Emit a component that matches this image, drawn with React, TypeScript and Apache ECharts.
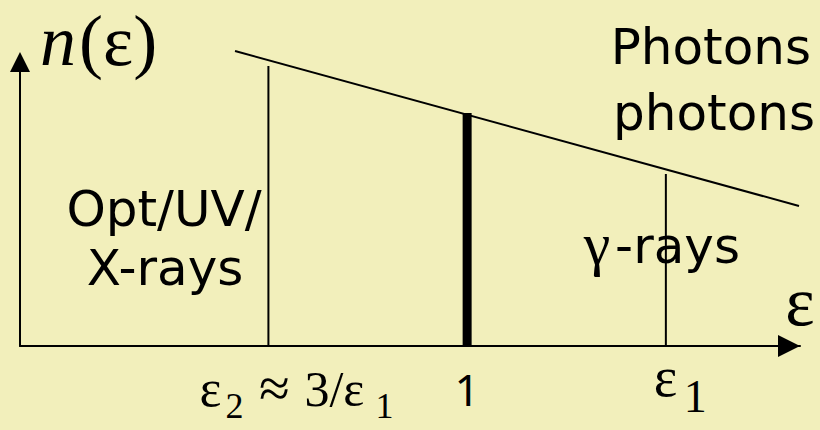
import React, { useEffect, useRef } from "react";
import * as echarts from "echarts";

// axis extents (log ε on x, log n on y; arbitrary units)
const xMin = -4.5;
const xMax = 3.35;
const yMin = 0;
const yMax = 2.84;

// power-law photon spectrum (straight line in log-log)
const spectrumX = [-2.336, 3.34];
const spectrumY = [2.95, 1.4];

// vertical markers: ε2, 1, ε1
const markerX = [-2, 0, 2];
const markerTop = [2.8, 2.33, 1.72];

// texts
const yAxisTitle = ["n", "(ε)"];
const xAxisTitle = "ε";
const topRightLabel = ["Photons", "photons"];
const leftBandLabel = ["Opt/UV/", "X-rays"];
const rightBandLabel = ["γ", "-rays"];
const tickLabelEps2 = ["ε", "2", "≈", "3/ε", "1"];
const tickLabelOne = "1";
const tickLabelEps1 = ["ε", "1"];

const SERIF = "'Liberation Serif', 'Times New Roman', serif";
const SANS = "'DejaVu Sans', Verdana, sans-serif";
const SANS2 = "'Noto Sans', Arial, sans-serif";
const BG = "#F2EFBB";

export default function App() {
  const ref = useRef<HTMLDivElement>(null);

  useEffect(() => {
    if (!ref.current) return;
    const chart = echarts.init(ref.current, null, { renderer: "svg" });

    const lineCommon = {
      show: true,
      onZero: false,
      symbol: ["none", "triangle"],
      lineStyle: { color: "#000", width: 2 },
    };
    const axisCommon = {
      type: "value" as const,
      axisTick: { show: false },
      axisLabel: { show: false },
      splitLine: { show: false },
    };

    const markerSeries = markerX.map((x, i) => ({
      type: "line" as const,
      data: [
        [x, 0],
        [x, markerTop[i]],
      ],
      symbol: "none",
      silent: true,
      clip: false,
      lineStyle: { color: "#000", width: i === 1 ? 9 : 2, cap: "butt" },
    }));

    chart.setOption({
      animation: false,
      backgroundColor: BG,
      grid: { left: 20, right: 20, top: 62, bottom: 84 },
      xAxis: {
        ...axisCommon,
        min: xMin,
        max: xMax,
        axisLine: { ...lineCommon, symbolSize: [22, 22], symbolOffset: [0, -11] },
      },
      yAxis: {
        ...axisCommon,
        min: yMin,
        max: yMax,
        axisLine: { ...lineCommon, symbolSize: [20, 20] },
      },
      series: [
        {
          type: "line",
          data: spectrumX.map((x, i) => [x, spectrumY[i]]),
          symbol: "none",
          silent: true,
          clip: false,
          lineStyle: { color: "#000", width: 2 },
        },
        ...markerSeries,
      ],
    });

    const px = (v: number) => chart.convertToPixel({ xAxisIndex: 0 }, v) as number;
    const t0 = px(markerX[0]);
    const t1 = px(markerX[1]);
    const t2 = px(markerX[2]);

    const txt = (
      text: string,
      x: number,
      y: number,
      font: string,
      size: number,
      align: string,
      italic = false
    ) => ({
      type: "text",
      x,
      y,
      silent: true,
      style: {
        text,
        fill: "#000",
        fontFamily: font,
        fontSize: size,
        fontStyle: italic ? "italic" : "normal",
        align,
        verticalAlign: "middle",
      },
    });

    chart.setOption({
      graphic: [
        txt(yAxisTitle[0], 40, 41, SERIF, 72, "left", true),
        txt(yAxisTitle[1], 79, 41, SERIF, 72, "left"),
        txt(xAxisTitle, 800, 301, SERIF, 70, "center"),
        txt(topRightLabel[0], 811, 46.7, SANS, 50, "right"),
        txt(topRightLabel[1], 815, 112.7, SANS, 50, "right"),
        txt(leftBandLabel[0], 164, 208.7, SANS, 50, "center"),
        txt(leftBandLabel[1], 165, 267.7, SANS, 50, "center"),
        txt(rightBandLabel[0], 597, 244, SERIF, 60, "center"),
        txt(rightBandLabel[1], 740, 245.7, SANS, 50, "right"),
        // ε2 ≈ 3/ε1
        txt(tickLabelEps2[0], t0 - 69, 388.8, SERIF, 52, "left"),
        txt(tickLabelEps2[1], t0 - 43, 405.8, SERIF, 36, "left"),
        txt(tickLabelEps2[2], t0 + 6, 387.5, SERIF, 56, "center"),
        txt(tickLabelEps2[3], t0 + 36, 388.8, SERIF, 50, "left"),
        txt(tickLabelEps2[4], t0 + 107, 405.8, SERIF, 36, "left"),
        // 1
        txt(tickLabelOne, t1, 389, SANS2, 44, "center"),
        // ε1
        txt(tickLabelEps1[0], t2 - 12, 376.8, SERIF, 56, "left"),
        txt(tickLabelEps1[1], t2 + 18, 396.5, SERIF, 46, "left"),
      ],
    });

    return () => chart.dispose();
  }, []);

  return (
    <div
      ref={ref}
      style={{ position: "fixed", left: 0, top: 0, width: 820, height: 430, background: BG }}
    />
  );
}
